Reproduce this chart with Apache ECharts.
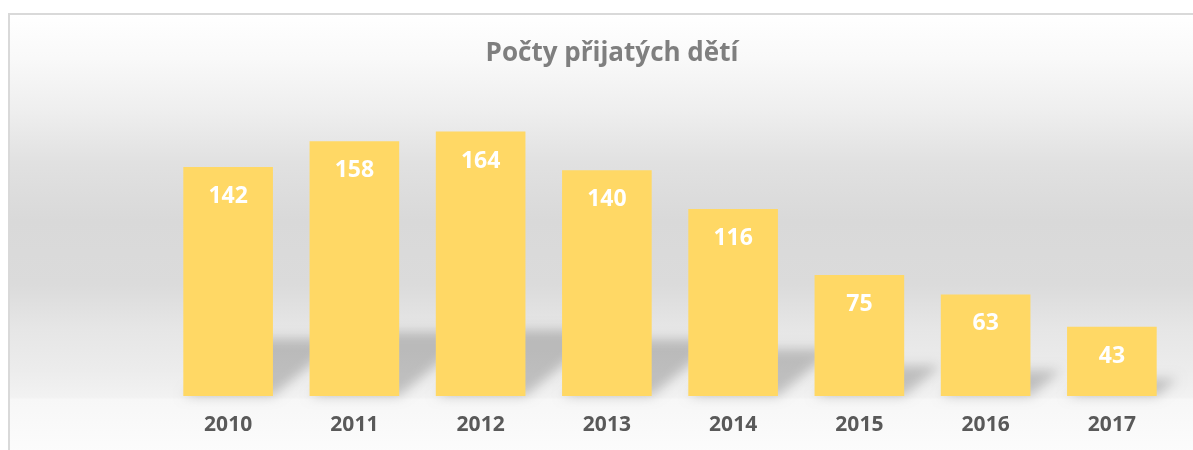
<!DOCTYPE html>
<html>
<head>
<meta charset="utf-8">
<script src="https://cdn.jsdelivr.net/npm/echarts@6/dist/echarts.min.js"></script>
<style>
  html, body { margin: 0; padding: 0; background: #ffffff; }
  #chart { width: 1193px; height: 450px; }
</style>
</head>
<body>
<div id="chart"></div>
<script>
// chart data
const titleText = "Počty přijatých dětí";
const years = ["2010", "2011", "2012", "2013", "2014", "2015", "2016", "2017"];
const children = [142, 158, 164, 140, 116, 75, 63, 43];

const barColor = "#FFD865";
const gapRatio = 0.29;

const chart = echarts.init(document.getElementById("chart"), null, { renderer: "canvas" });

// soft floor shadow behind each bar, built from the axis coords
function renderShadow(params, api) {
  const base = api.coord([api.value(0), 0]);
  const top = api.coord([api.value(0), api.value(1)]);
  const w = api.size([1, 0])[0] * (1 - gapRatio);
  const h = base[1] - top[1];
  const H = h * 0.25;
  const s = H * 1.2;
  const left = base[0] - w / 2;
  const right = base[0] + w / 2;
  const bottom = base[1];
  const shift = 3000; // draw shape off canvas, keep only its blurred shadow
  return {
    type: "polygon",
    shape: {
      points: [
        [left - shift, bottom],
        [right - shift, bottom],
        [right + s - shift, bottom - H],
        [left + s - shift, bottom - H]
      ]
    },
    style: {
      fill: "#000",
      shadowColor: "rgba(0,0,0,0.2)",
      shadowBlur: 12,
      shadowOffsetX: shift,
      shadowOffsetY: 0
    }
  };
}

chart.setOption({
  animation: false,
  graphic: [
    {
      type: "rect",
      z: -10,
      silent: true,
      shape: { x: 9, y: 14, width: 1200, height: 450 },
      style: {
        stroke: "#d9d9d9",
        lineWidth: 2,
        fill: {
          type: "linear", x: 0, y: 0, x2: 0, y2: 1,
          colorStops: [
            { offset: 0, color: "#ffffff" },
            { offset: 0.1, color: "#f9f9f9" },
            { offset: 0.22, color: "#eeeeee" },
            { offset: 0.33, color: "#e1e1e1" },
            { offset: 0.46, color: "#d9d9d9" },
            { offset: 0.6, color: "#dbdbdb" },
            { offset: 0.7, color: "#e6e6e6" },
            { offset: 0.79, color: "#ececec" },
            { offset: 0.85, color: "#f2f2f2" },
            { offset: 0.855, color: "#f7f7f7" },
            { offset: 1, color: "#fdfdfd" }
          ]
        }
      }
    }
  ],
  title: {
    text: titleText,
    left: 607,
    top: 36,
    textAlign: "center",
    textStyle: {
      fontFamily: "Open Sans",
      fontWeight: "bold",
      fontSize: 26,
      color: "#7f7f7f"
    }
  },
  grid: { left: 165, right: 18, top: 105.7, bottom: 54 },
  xAxis: {
    type: "category",
    data: years,
    axisLine: { show: false },
    axisTick: { show: false },
    axisLabel: {
      margin: 19,
      fontFamily: "Open Sans",
      fontWeight: "bold",
      fontSize: 21,
      color: "#595959"
    }
  },
  yAxis: {
    type: "value",
    min: 0,
    max: 180,
    show: false,
    splitLine: { show: false }
  },
  series: [
    {
      type: "custom",
      renderItem: renderShadow,
      data: children.map((v, i) => [i, v]),
      z: 1,
      silent: true
    },
    {
      type: "bar",
      data: children,
      barCategoryGap: (gapRatio * 100) + "%",
      z: 2,
      itemStyle: { color: barColor },
      label: {
        show: true,
        position: "insideTop",
        distance: 18,
        fontFamily: "Open Sans",
        fontWeight: "bold",
        fontSize: 23,
        color: "#ffffff"
      }
    }
  ]
});
</script>
</body>
</html>
